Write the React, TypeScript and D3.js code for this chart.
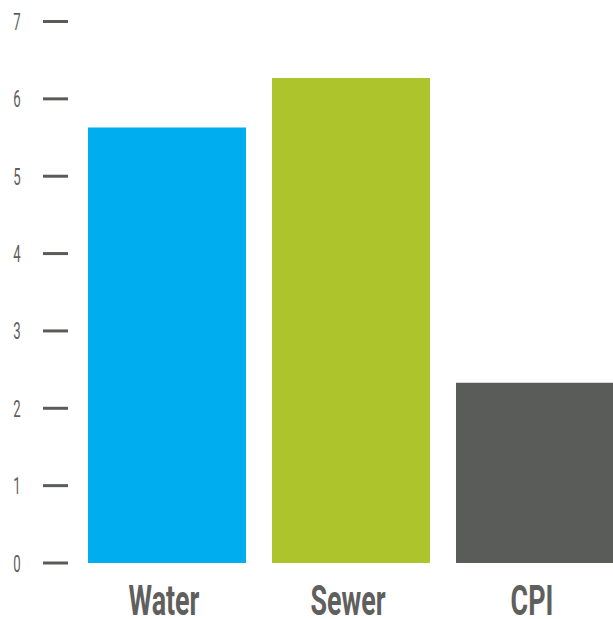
import React from "react";
import * as d3 from "d3";

const categories = ["Water", "Sewer", "CPI"];
const values = [5.63, 6.27, 2.33];
const colors = ["#00aeef", "#aec42d", "#5a5c59"];
const tickValues = [0, 1, 2, 3, 4, 5, 6, 7];

export default function App() {
  const W = 613, H = 619;
  const y = d3.scaleLinear().domain([0, 7]).range([563, 21.5]);
  const x = d3.scaleBand<string>().domain(categories).range([88, 614]).paddingInner(26 / 184).paddingOuter(0);
  const textColor = "#5f605e";
  return (
    <svg width={W} height={H} style={{ position: "absolute", left: 0, top: 0 }}>
      <rect width={W} height={H} fill="#ffffff" />
      {tickValues.map((t) => (
        <g key={t}>
          <line x1={43} x2={68} y1={y(t)} y2={y(t)} stroke="#5a5c59" strokeWidth={3} />
          <text
            transform={`translate(17,${y(t) + 8.5}) scale(0.55,1)`}
            textAnchor="middle"
            fontFamily="Roboto, sans-serif"
            fontSize={24}
            fill={textColor}
          >
            {t}
          </text>
        </g>
      ))}
      {categories.map((c, i) => (
        <rect key={c} x={x(c)} y={y(values[i])} width={x.bandwidth()} height={y(0) - y(values[i])} fill={colors[i]} />
      ))}
      {categories.map((c) => (
        <text
          key={c}
          transform={`translate(${(x(c) as number) + x.bandwidth() / 2 - 3},615) scale(0.64,1)`}
          textAnchor="middle"
          fontFamily="Roboto, sans-serif"
          fontWeight="bold"
          fontSize={42}
          fill={textColor}
        >
          {c}
        </text>
      ))}
    </svg>
  );
}
